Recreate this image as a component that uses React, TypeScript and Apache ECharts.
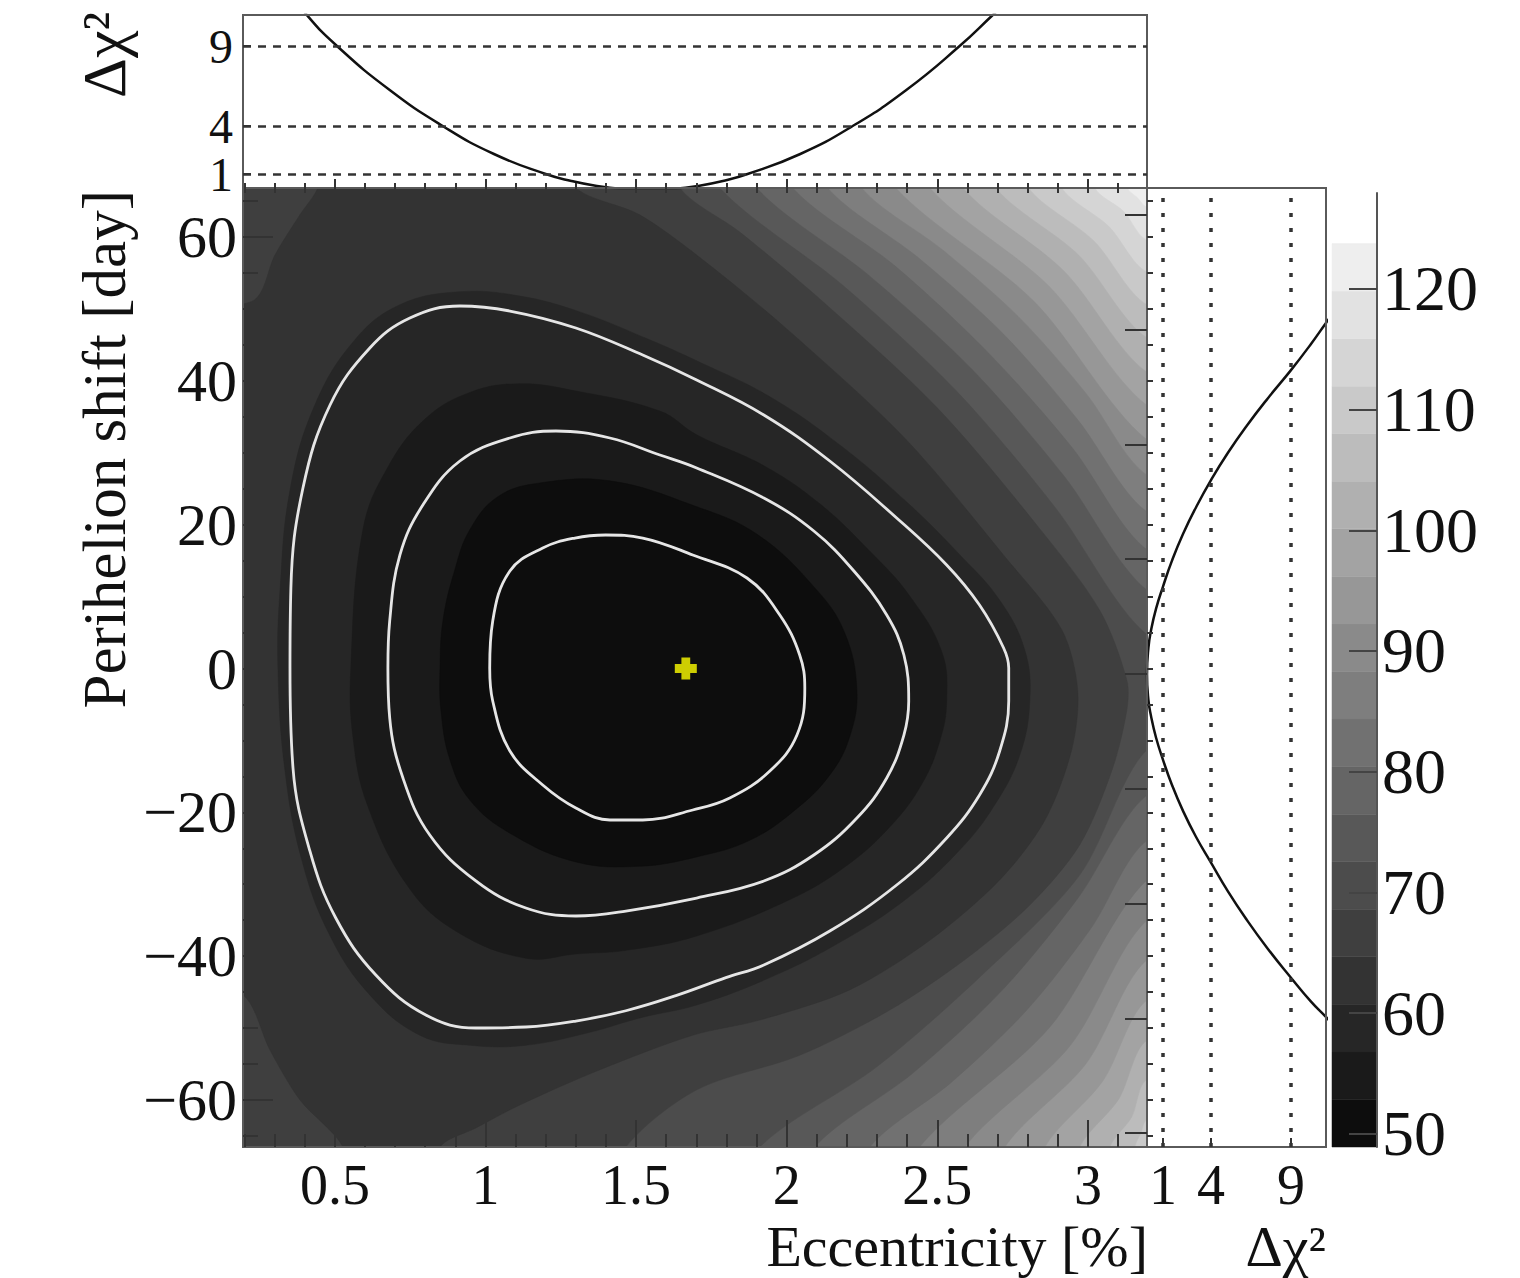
import React, { useEffect, useRef } from "react";
import * as echarts from "echarts";

const FONT = "'Liberation Serif', 'Times New Roman', serif";
const INK = "#111111";
const FRAME = "#5a5a5a";

// ---- axis ranges ----
const ECC_MIN = 0.195;
const ECC_MAX = 3.196;
const SHIFT_MIN = -66.55;
const SHIFT_MAX = 66.83;
const TOP_DCHI_MIN = 0.125;
const TOP_DCHI_MAX = 10.94;
const RIGHT_DCHI_MIN = 0;
const RIGHT_DCHI_MAX = 11.19;
const Z_AXIS_MIN = 48.9;
const Z_AXIS_MAX = 127.95;

// extents outside the frame used to close filled bands (clipped away)
const X_OUT_L = 0.0;
const X_OUT_R = 3.4;
const Y_OUT_T = 72;
const Y_OUT_B = -72;

// ---- tick values ----
const eccTicks = [0.5, 1, 1.5, 2, 2.5, 3];
const eccMinorTicks = [0.2, 0.3, 0.4, 0.6, 0.7, 0.8, 0.9, 1.1, 1.2, 1.3, 1.4, 1.6, 1.7, 1.8, 1.9, 2.1, 2.2, 2.3, 2.4, 2.6, 2.7, 2.8, 2.9, 3.1];
const shiftTicks = [-60, -40, -20, 0, 20, 40, 60];
const shiftMinorTicks = [-65, -55, -50, -45, -35, -30, -25, -15, -10, -5, 5, 10, 15, 25, 30, 35, 45, 50, 55, 65];
const rightEdgeTicks = [-64.6, -48.65, -32.7, -16.7, -0.7, 15.2, 31.15, 47.1, 63.1];
const dchiLevels = [1, 4, 9];
const topLabelsUpper = [4, 9];
const topLabelsLower = [1];
const zTicks = [50, 60, 70, 80, 90, 100, 110, 120];

// ---- colour scale (contour levels of chi2 and band greys) ----
const zLevels = [48.9, 52.84, 56.78, 60.72, 64.66, 68.6, 72.54, 76.48, 80.42, 84.36, 88.3, 92.24, 96.18, 100.12, 104.06, 108.0, 111.94, 115.88, 119.82, 123.76];
const bandGrays = [13, 26, 38, 51, 63, 76, 88, 101, 113, 126, 138, 151, 163, 176, 188, 201, 213, 226, 238];

// ---- best fit ----
const bestFit = [1.665, 0];

// ---- 1D profiles ----
const topEcc = [0.38, 0.407, 0.507, 0.682, 0.858, 1.028, 1.2, 1.285, 1.37, 1.455, 1.54, 1.622, 1.705, 1.788, 1.87, 2.045, 2.219, 2.397, 2.574, 2.684, 2.71];
const topDchi = [11.8, 10.94, 9.0, 6.25, 4.0, 2.25, 1.0, 0.5625, 0.25, 0.0625, 0.0, 0.0625, 0.25, 0.5625, 1.0, 2.25, 4.0, 6.25, 9.0, 10.94, 11.4];

const rightShift = [49.3, 48.1, 45.1, 41.5, 37.6, 33.8, 30.0, 26.2, 22.4, 18.7, 15.0, 11.4, 8.3, 5.3, 2.9, -0.8, -4.4, -6.6, -9.6, -12.7, -16.2, -19.8, -23.4, -27.0, -31.0, -35.0, -39.0, -43.0, -46.3, -48.5, -49.5];
const rightDchi = [11.6, 11.2, 10.24, 9.0, 7.56, 6.25, 5.06, 4.0, 3.06, 2.25, 1.5625, 1.0, 0.5625, 0.25, 0.09, 0.0, 0.09, 0.25, 0.5625, 1.0, 1.5625, 2.25, 3.06, 4.0, 5.06, 6.25, 7.56, 9.0, 10.24, 11.2, 11.6];

// ---- white contours: delta chi2 = 1, 4, 9 ----
const contourDchi1 = [[1.014, 0.07], [1.024, 6.61], [1.081, 13.56], [1.19, 16.76], [1.297, 18.15], [1.399, 18.57], [1.522, 18.15], [1.688, 15.79], [1.868, 12.59], [1.977, 7.44], [2.043, 1.88], [2.06, -2.71], [2.034, -9.25], [1.944, -14.26], [1.811, -18.01], [1.688, -19.68], [1.522, -21.07], [1.413, -21.07], [1.3, -19.4], [1.19, -16.2], [1.081, -11.47], [1.024, -4.52], [1.014, 0.07]];
const contourDchi4 = [[0.676, 0.07], [0.682, 6.61], [0.716, 15.79], [0.792, 22.74], [0.915, 28.86], [1.081, 32.06], [1.234, 33.03], [1.413, 32.06], [1.579, 29.69], [1.701, 27.89], [1.924, 23.71], [2.09, 19.12], [2.223, 13.56], [2.332, 7.44], [2.389, 1.88], [2.405, -4.52], [2.389, -9.25], [2.332, -15.23], [2.233, -20.79], [2.09, -25.94], [1.924, -29.55], [1.701, -31.92], [1.466, -33.73], [1.3, -34.42], [1.134, -33.31], [0.968, -29.55], [0.815, -23.16], [0.726, -15.23], [0.682, -6.88], [0.676, 0.07]];
const contourDchi9 = [[0.351, 0.07], [0.354, 11.2], [0.394, 25.1], [0.484, 36.65], [0.616, 44.58], [0.749, 48.75], [0.915, 50.42], [1.081, 49.72], [1.3, 47.36], [1.522, 43.6], [1.701, 40.13], [1.924, 35.26], [2.143, 28.86], [2.365, 20.93], [2.531, 14.4], [2.64, 8.83], [2.72, 2.85], [2.737, 0.07], [2.737, -4.52], [2.707, -11.47], [2.64, -17.59], [2.531, -23.57], [2.365, -30.11], [2.143, -36.51], [1.924, -41.24], [1.798, -43.0], [1.632, -45.5], [1.466, -47.6], [1.3, -49.03], [1.134, -49.86], [0.968, -50.0], [0.802, -48.19], [0.636, -42.63], [0.503, -34.7], [0.417, -25.38], [0.361, -13.84], [0.351, 0.07]];

// ---- chi2 band boundaries (level k = zLevels[k]) ----
const bandEdge1 = [[0.849, 0.07], [0.859, 6.75], [0.898, 13.7], [0.948, 19.3], [1.041, 23.9], [1.18, 25.8], [1.413, 26.1], [1.688, 22.7], [1.904, 18.6], [2.1, 10.9], [2.193, 4.9], [2.233, -3.0], [2.209, -9.5], [2.143, -14.8], [2.027, -19.7], [1.877, -23.9], [1.701, -26.2], [1.512, -27.5], [1.3, -26.9], [1.081, -22.9], [0.948, -18.3], [0.882, -12.7], [0.852, -5.8]];
const bandEdge2 = [[0.553, 0.07], [0.593, 19.3], [0.676, 28.0], [0.802, 34.8], [0.955, 38.5], [1.114, 39.6], [1.287, 38.7], [1.579, 35.8], [1.701, 32.5], [1.924, 28.2], [2.11, 22.9], [2.276, 16.3], [2.408, 10.1], [2.515, 2.3], [2.531, -4.5], [2.508, -10.1], [2.448, -16.1], [2.345, -21.9], [2.196, -27.5], [2.007, -32.2], [1.701, -37.2], [1.466, -39.2], [1.3, -39.7], [1.134, -40.3], [0.905, -36.6], [0.746, -30.5], [0.609, -19.1], [0.56, -9.5]];
const bandEdge3 = [[0.311, 0.07], [0.318, 10.9], [0.351, 24.8], [0.433, 36.6], [0.566, 45.7], [0.716, 50.6], [0.915, 52.4], [1.114, 51.8], [1.313, 49.6], [1.529, 46.0], [1.711, 42.6], [1.944, 37.8], [2.176, 31.1], [2.392, 23.4], [2.575, 15.8], [2.707, 9.5], [2.79, 2.6], [2.807, -4.4], [2.774, -12.0], [2.69, -19.0], [2.575, -25.2], [2.392, -32.2], [2.159, -38.5], [1.927, -43.3], [1.701, -46.8], [1.512, -48.6], [1.346, -50.6], [1.134, -52.4], [0.948, -52.4], [0.782, -51.0], [0.616, -45.4], [0.483, -37.1], [0.39, -26.6], [0.334, -14.1]];
const bandEdge4 = [[X_OUT_L, 48.5], [0.234, 51.3], [0.301, 57.5], [0.384, 63.1], [0.443, 66.83], [0.466, Y_OUT_T], [1.28, Y_OUT_T], [1.3, 66.83], [1.512, 63.1], [1.738, 56.3], [2.02, 46.5], [2.395, 31.9], [2.727, 15.4], [2.913, 5.4], [2.966, -3.0], [2.946, -11.3], [2.857, -21.1], [2.707, -29.4], [2.475, -37.8], [2.209, -44.7], [1.91, -48.9], [1.688, -51.0], [1.38, -55.8], [1.114, -60.7], [0.968, -63.9], [0.849, -66.55], [0.84, Y_OUT_B], [0.53, Y_OUT_B], [0.527, -66.55], [0.384, -60.0], [0.285, -53.1], [0.195, -45.4], [X_OUT_L, -44.0]];
const bandEdge5 = [[X_OUT_L, Y_OUT_T], [1.645, Y_OUT_T], [1.645, 66.83], [1.844, 60.7], [2.126, 50.8], [2.501, 36.2], [2.833, 19.8], [3.039, 8.1], [3.129, -1.6], [3.129, -5.8], [3.08, -14.1], [2.973, -24.5], [2.807, -32.9], [2.591, -40.5], [2.342, -47.5], [2.043, -53.8], [1.701, -58.6], [1.466, -66.55], [1.45, Y_OUT_B], [X_OUT_L, Y_OUT_B]];

// upper-right stripes for levels 6..18 (top edge -> right edge)
const upperStripes = [
  [[1.778, 66.83], [2.186, 53.3], [2.561, 38.7], [2.893, 22.3], [3.196, 4.7]],
  [[1.9, 66.83], [2.272, 54.7], [2.614, 41.65], [2.92, 26.8], [3.196, 10.9]],
  [[2.02, 66.83], [2.359, 56.0], [2.667, 44.0], [2.946, 30.8], [3.196, 16.5]],
  [[2.136, 66.83], [2.438, 57.1], [2.72, 46.5], [2.966, 34.6], [3.196, 21.8]],
  [[2.249, 66.83], [2.518, 58.2], [2.77, 48.9], [2.993, 38.3], [3.196, 26.9]],
  [[2.362, 66.83], [2.82, 51.1], [3.196, 31.8]],
  [[2.475, 66.83], [2.87, 53.2], [3.196, 36.6]],
  [[2.585, 66.83], [2.92, 55.3], [3.196, 41.2]],
  [[2.694, 66.83], [2.969, 57.5], [3.196, 46.0]],
  [[2.803, 66.83], [3.019, 59.5], [3.196, 50.6]],
  [[2.913, 66.83], [3.069, 61.5], [3.196, 55.15]],
  [[3.023, 66.83], [3.118, 63.6], [3.196, 59.6]],
  [[3.132, 66.83], [3.164, 65.5], [3.196, 64.2]],
];
// lower-right stripes for levels 6..15 (right edge -> bottom edge)
const lowerStripes = [
  [[3.196, -11.3], [2.973, -28.7], [2.644, -42.8], [2.299, -55.4], [1.911, -66.55]],
  [[3.196, -17.6], [2.969, -31.8], [2.714, -44.8], [2.418, -56.3], [2.093, -66.55]],
  [[3.196, -23.9], [3.009, -36.2], [2.797, -47.5], [2.548, -57.5], [2.276, -66.55]],
  [[3.196, -29.4], [2.873, -49.9], [2.441, -66.55]],
  [[3.196, -35.0], [2.94, -52.5], [2.591, -66.55]],
  [[3.196, -40.5], [2.993, -55.0], [2.724, -66.55]],
  [[3.196, -46.1], [3.049, -57.4], [2.857, -66.55]],
  [[3.196, -51.7], [3.102, -59.9], [2.973, -66.55]],
  [[3.196, -57.2], [3.145, -62.4], [3.073, -66.55]],
  [[3.196, -62.8], [3.176, -64.6], [3.156, -66.55]],
];

const grayOf = (g: number) => `rgb(${g},${g},${g})`;
const minusFmt = (v: number) => (v < 0 ? "\u2212" + Math.abs(v) : String(v));

type Fill = { pts: number[][]; band: number; smooth: number };

function buildFills(): Fill[] {
  const fills: Fill[] = [];
  fills.push({
    pts: [[X_OUT_L, Y_OUT_T], [X_OUT_R, Y_OUT_T], [X_OUT_R, Y_OUT_B], [X_OUT_L, Y_OUT_B]],
    band: 18,
    smooth: 0,
  });
  for (let k = 18; k >= 6; k--) {
    const up = upperStripes[k - 6];
    const A = up[0];
    const B = up[up.length - 1];
    const pts: number[][] = [[X_OUT_L, Y_OUT_T], [A[0], Y_OUT_T], ...up, [X_OUT_R, B[1]]];
    if (k - 6 < lowerStripes.length) {
      const lo = lowerStripes[k - 6];
      const L = lo[lo.length - 1];
      pts.push([X_OUT_R, lo[0][1]], ...lo, [L[0], Y_OUT_B]);
    } else {
      pts.push([X_OUT_R, Y_OUT_B]);
    }
    pts.push([X_OUT_L, Y_OUT_B]);
    fills.push({ pts, band: k - 1, smooth: 0.3 });
  }
  fills.push({ pts: bandEdge5, band: 4, smooth: 0.3 });
  fills.push({ pts: bandEdge4, band: 3, smooth: 0.3 });
  fills.push({ pts: bandEdge3, band: 2, smooth: 0.4 });
  fills.push({ pts: bandEdge2, band: 1, smooth: 0.4 });
  fills.push({ pts: bandEdge1, band: 0, smooth: 0.4 });
  return fills;
}

export default function App() {
  const ref = useRef<HTMLDivElement>(null);

  useEffect(() => {
    if (!ref.current) return;
    const chart = echarts.init(ref.current, null, { renderer: "svg" });
    const fills = buildFills();

    const labelFont = { fontFamily: FONT, color: INK };
    const tickStyle = { color: "#333", width: 2 };
    const noLine = { show: false, onZero: false };
    const keepAll = { showMinLabel: true, showMaxLabel: true, hideOverlap: false };

    const tickOnly = (gridIndex: number, min: number, max: number, position: string, length: number, values: number[]) => ({
      gridIndex, type: "value", min, max, position, z: 6,
      axisLine: noLine, splitLine: { show: false },
      axisTick: { show: true, inside: true, length, customValues: values, lineStyle: tickStyle },
      axisLabel: { show: false },
    });

    const option: any = {
      animation: false,
      backgroundColor: "#ffffff",
      textStyle: { fontFamily: FONT },
      grid: [
        { left: 243, top: 188, width: 904, height: 959, show: true, borderColor: FRAME, borderWidth: 2, backgroundColor: "transparent", z: 5 },
        { left: 243, top: 15, width: 904, height: 173, show: true, borderColor: FRAME, borderWidth: 2, backgroundColor: "transparent", z: 5 },
        { left: 1147, top: 188, width: 179, height: 959, show: true, borderColor: FRAME, borderWidth: 2, backgroundColor: "transparent", z: 5 },
        { left: 1332, top: 193, width: 45, height: 954, show: false },
      ],
      xAxis: [
        {
          gridIndex: 0, type: "value", min: ECC_MIN, max: ECC_MAX, position: "bottom", z: 6,
          axisLine: noLine, splitLine: { show: false },
          axisTick: { show: true, inside: true, length: 27, customValues: eccTicks, lineStyle: tickStyle },
          axisLabel: { show: true, customValues: eccTicks, fontSize: 56, lineHeight: 56, margin: 10, ...keepAll, ...labelFont },
        },
        tickOnly(0, ECC_MIN, ECC_MAX, "bottom", 13, eccMinorTicks),
        tickOnly(0, ECC_MIN, ECC_MAX, "top", 5, eccMinorTicks.concat(eccTicks)),
        tickOnly(1, ECC_MIN, ECC_MAX, "bottom", 9, eccTicks),
        tickOnly(1, ECC_MIN, ECC_MAX, "bottom", 5, eccMinorTicks),
        {
          gridIndex: 2, type: "value", min: RIGHT_DCHI_MIN, max: RIGHT_DCHI_MAX, position: "bottom", z: 6,
          axisLine: noLine, splitLine: { show: false },
          axisTick: { show: true, inside: true, length: 9, customValues: dchiLevels, lineStyle: tickStyle },
          axisLabel: { show: true, customValues: dchiLevels, fontSize: 56, lineHeight: 56, margin: 10, ...keepAll, ...labelFont },
        },
        { gridIndex: 3, type: "value", min: 0, max: 1, show: false, axisLine: noLine },
      ],
      yAxis: [
        {
          gridIndex: 0, type: "value", min: SHIFT_MIN, max: SHIFT_MAX, position: "left", z: 6,
          axisLine: noLine, splitLine: { show: false },
          axisTick: { show: true, inside: true, length: 30, customValues: shiftTicks, lineStyle: tickStyle },
          axisLabel: { show: true, customValues: shiftTicks, formatter: minusFmt, fontSize: 60, lineHeight: 58, margin: 6, ...keepAll, ...labelFont },
        },
        tickOnly(0, SHIFT_MIN, SHIFT_MAX, "left", 15, shiftMinorTicks),
        tickOnly(0, SHIFT_MIN, SHIFT_MAX, "right", 22, rightEdgeTicks),
        {
          gridIndex: 1, type: "value", min: TOP_DCHI_MIN, max: TOP_DCHI_MAX, position: "left", z: 6,
          axisLine: noLine, splitLine: { show: false },
          axisTick: { show: true, inside: true, length: 8, customValues: dchiLevels, lineStyle: tickStyle },
          axisLabel: { show: true, customValues: topLabelsUpper, fontSize: 48, lineHeight: 40, margin: 10, ...keepAll, ...labelFont },
        },
        tickOnly(2, SHIFT_MIN, SHIFT_MAX, "left", 6, shiftMinorTicks.concat(shiftTicks)),
        {
          gridIndex: 3, type: "value", min: Z_AXIS_MIN, max: Z_AXIS_MAX, position: "right", z: 6,
          axisLine: { show: true, onZero: false, lineStyle: { color: "#555", width: 2 } }, splitLine: { show: false },
          axisTick: { show: true, inside: true, length: 28, customValues: zTicks, lineStyle: { color: "#444", width: 2 } },
          axisLabel: { show: true, customValues: zTicks, fontSize: 64, lineHeight: 64, margin: 5, ...keepAll, ...labelFont },
        },
        {
          gridIndex: 1, type: "value", min: TOP_DCHI_MIN, max: TOP_DCHI_MAX, position: "left", z: 6,
          axisLine: noLine, splitLine: { show: false },
          axisTick: { show: false },
          axisLabel: { show: true, customValues: topLabelsLower, fontSize: 48, lineHeight: 40, margin: 10, ...keepAll, ...labelFont },
        },
      ],
      series: [
        {
          type: "custom",
          xAxisIndex: 0,
          yAxisIndex: 0,
          z: 1,
          clip: true,
          silent: true,
          data: fills.map(() => [1.5, 0]),
          encode: { x: 0, y: 1 },
          renderItem: (params: any, api: any) => {
            const f = fills[params.dataIndex];
            return {
              type: "polygon",
              shape: { points: f.pts.map((p) => api.coord(p)), smooth: f.smooth },
              style: { fill: grayOf(bandGrays[f.band]), stroke: grayOf(bandGrays[f.band]), lineWidth: 0.5 },
            };
          },
        },
        ...[contourDchi1, contourDchi4, contourDchi9].map((c) => ({
          type: "line",
          xAxisIndex: 0,
          yAxisIndex: 0,
          z: 3,
          data: c,
          smooth: 0.4,
          symbol: "none",
          silent: true,
          lineStyle: { color: "#e6e6e6", width: 2.8 },
        })),
        {
          type: "scatter",
          xAxisIndex: 0,
          yAxisIndex: 0,
          z: 7,
          data: [bestFit],
          symbol: "path://M3,0H7V3H10V7H7V10H3V7H0V3H3Z",
          symbolSize: 22,
          itemStyle: { color: "#ffff00" },
          silent: true,
        },
        {
          type: "line",
          xAxisIndex: 3,
          yAxisIndex: 3,
          z: 4,
          data: topEcc.map((x, i) => [x, topDchi[i]]),
          smooth: 0.5,
          symbol: "none",
          silent: true,
          lineStyle: { color: INK, width: 2.5 },
          markLine: {
            silent: true,
            symbol: ["none", "none"],
            label: { show: false },
            lineStyle: { type: [8, 7], color: "#333", width: 2.5 },
            data: dchiLevels.map((v) => ({ yAxis: v })),
          },
        },
        {
          type: "line",
          xAxisIndex: 5,
          yAxisIndex: 4,
          z: 4,
          data: rightDchi.map((d, i) => [d, rightShift[i]]),
          smooth: 0.5,
          symbol: "none",
          silent: true,
          lineStyle: { color: INK, width: 2.5 },
          markLine: {
            silent: true,
            symbol: ["none", "none"],
            label: { show: false },
            lineStyle: { type: [4, 11], color: "#333", width: 3.5 },
            data: dchiLevels.map((v) => ({ xAxis: v })),
          },
        },
        {
          type: "custom",
          xAxisIndex: 6,
          yAxisIndex: 5,
          z: 2,
          silent: true,
          data: bandGrays.map((g, i) => [0, zLevels[i], zLevels[i + 1]]),
          encode: { x: 0, y: [1, 2] },
          renderItem: (params: any, api: any) => {
            const p0 = api.coord([0, api.value(1)]);
            const p1 = api.coord([1, api.value(2)]);
            const g = bandGrays[params.dataIndex];
            return {
              type: "rect",
              shape: { x: p0[0], y: p1[1], width: p1[0] - p0[0], height: p0[1] - p1[1] },
              style: { fill: grayOf(g), stroke: grayOf(g), lineWidth: 0.5 },
            };
          },
        },
      ],
      graphic: [
        {
          type: "text", x: 104, y: 190, rotation: Math.PI / 2, z: 10,
          style: { text: "Perihelion shift [day]", fontSize: 61, lineHeight: 60, fontFamily: FONT, fill: INK, align: "right", verticalAlign: "middle" },
        },
        {
          type: "text", x: 104, y: 12, rotation: Math.PI / 2, z: 10,
          style: { text: "\u0394\u03c7\u00b2", fontSize: 62, lineHeight: 58, fontFamily: FONT, fill: INK, align: "right", verticalAlign: "middle" },
        },
        {
          type: "text", x: 1148, y: 1246, z: 10,
          style: { text: "Eccentricity [%]", fontSize: 58, lineHeight: 56, fontFamily: FONT, fill: INK, align: "right", verticalAlign: "middle" },
        },
        {
          type: "text", x: 1326, y: 1246, z: 10,
          style: { text: "\u0394\u03c7\u00b2", fontSize: 58, lineHeight: 56, fontFamily: FONT, fill: INK, align: "right", verticalAlign: "middle" },
        },
      ],
    };

    chart.setOption(option);
    return () => chart.dispose();
  }, []);

  return (
    <div
      ref={ref}
      style={{ position: "fixed", left: 0, top: 0, width: 1520, height: 1278, background: "#fff" }}
    />
  );
}
